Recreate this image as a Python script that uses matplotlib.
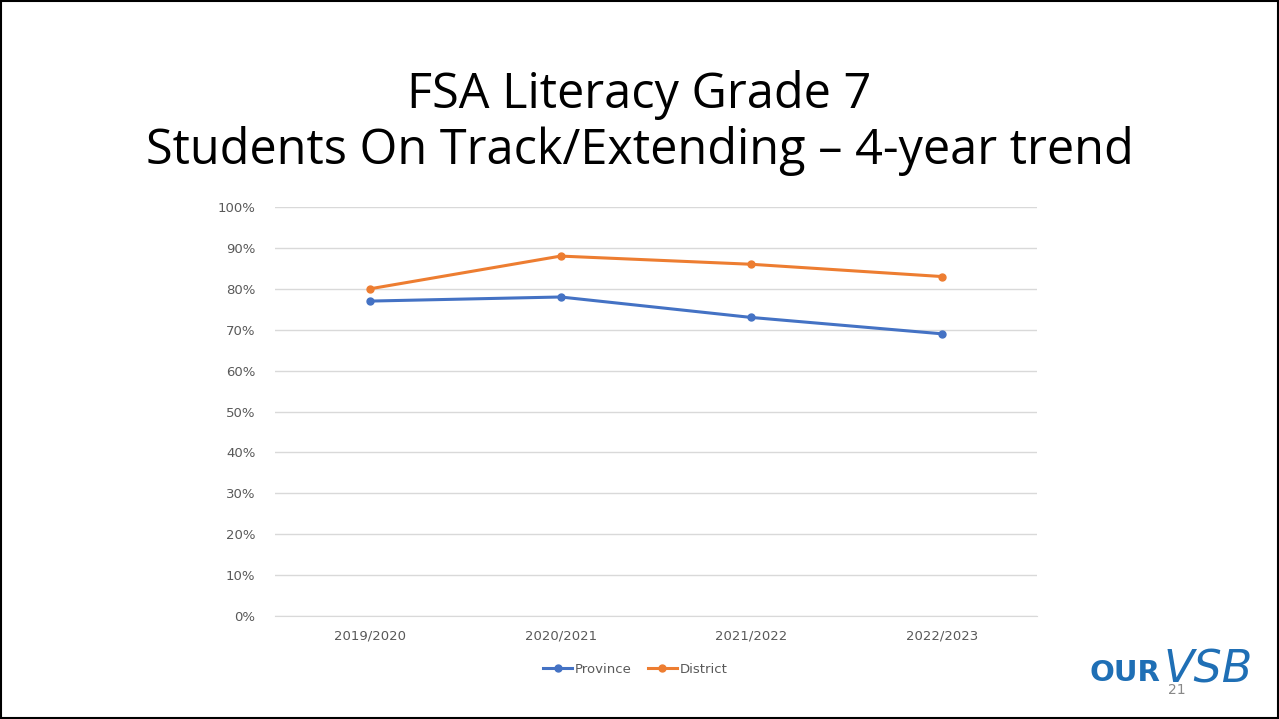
import matplotlib.pyplot as plt
from matplotlib.patches import Rectangle

years = ["2019/2020", "2020/2021", "2021/2022", "2022/2023"]
province = [77, 78, 73, 69]
district = [80, 88, 86, 83]
yticks = [0, 10, 20, 30, 40, 50, 60, 70, 80, 90, 100]

fig = plt.figure(figsize=(12.79, 7.19), dpi=100)
fig.patch.set_facecolor("white")

# slide frame
fig.patches.append(Rectangle((0.001, 0.002), 0.998, 0.996, transform=fig.transFigure,
                             fill=False, edgecolor="black", linewidth=1.5))

ax = fig.add_axes([0.2148, 0.1432, 0.5960, 0.5689])
x = range(len(years))
ax.plot(x, province, color="#4472c4", linewidth=2.2, marker="o", markersize=5, label="Province")
ax.plot(x, district, color="#ed7d31", linewidth=2.2, marker="o", markersize=5, label="District")

ax.set_xlim(-0.5, len(years) - 0.5)
ax.set_ylim(0, 100)
ax.set_yticks(yticks)
ax.set_yticklabels([f"{v}%" for v in yticks])
ax.set_xticks(list(x))
ax.set_xticklabels(years)
ax.tick_params(axis="both", length=0, labelsize=9.5, labelcolor="#595959")
ax.tick_params(axis="y", pad=14)
ax.tick_params(axis="x", pad=10)
ax.grid(axis="y", color="#d9d9d9", linewidth=1)
ax.set_axisbelow(True)
for s in ["top", "right", "left"]:
    ax.spines[s].set_visible(False)
ax.spines["bottom"].set_color("#d9d9d9")

ax.legend(loc="upper center", bbox_to_anchor=(0.473, -0.086), ncol=2, frameon=False,
          fontsize=9.5, labelcolor="#595959", handlelength=2.2, handletextpad=0.2,
          columnspacing=1.2)

fig.text(0.5, 0.868, "FSA Literacy Grade 7", ha="center", va="center",
         fontsize=35, family="Open Sans")
fig.text(0.5, 0.790, "Students On Track/Extending \u2013 4-year trend", ha="center", va="center",
         fontsize=35, family="Open Sans")

# logo
fig.text(0.852, 0.064, "OUR", ha="left", va="center", fontsize=21, fontweight="heavy",
         color="#1f6fb5", family="DejaVu Sans")
fig.text(0.910, 0.068, "VSB", ha="left", va="center", fontsize=32, style="italic",
         color="#1f6fb5", family="DejaVu Sans")
fig.text(0.913, 0.040, "21", ha="left", va="center", fontsize=10, color="#888888")

fig.savefig("out.png", dpi=100)
